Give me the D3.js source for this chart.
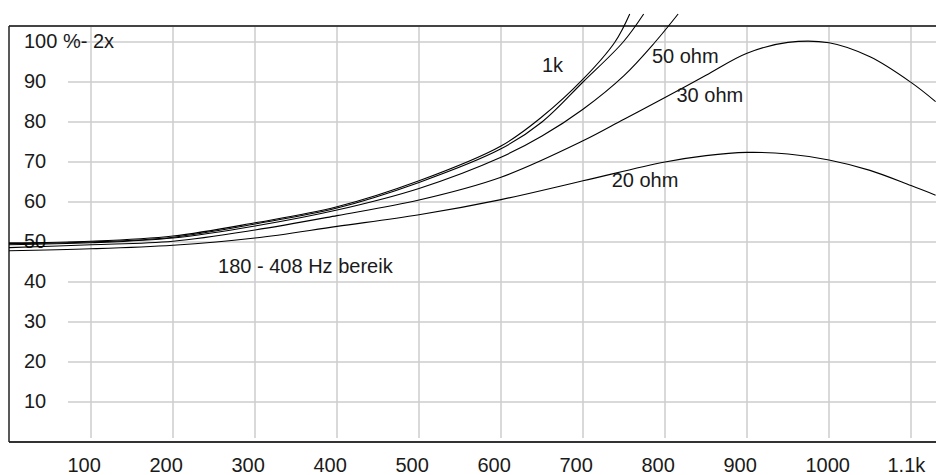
<!DOCTYPE html>
<html>
<head>
<meta charset="utf-8">
<script src="https://cdn.jsdelivr.net/npm/d3@7"></script>
<style>
  html, body { margin: 0; padding: 0; background: #fff; }
  svg { display: block; }
  text { font-family: "Liberation Sans", Arial, sans-serif; font-size: 20px; fill: #1a1a1a; }
</style>
</head>
<body>
<svg id="chart" width="936" height="475"></svg>
<script>
// ---- data ----
const xTicks = [100, 200, 300, 400, 500, 600, 700, 800, 900, 1000, 1100];
const xTickLabels = ["100", "200", "300", "400", "500", "600", "700", "800", "900", "1000", "1.1k"];
const yTicks = [10, 20, 30, 40, 50, 60, 70, 80, 90, 100];
const yTickLabels = ["10", "20", "30", "40", "50", "60", "70", "80", "90", "100 %- 2x"];

const freqA = [0, 100, 200, 300, 400, 500, 600, 650, 700, 739, 757];
const valsA = [49.8, 50.2, 51.5, 54.8, 58.8, 65.3, 74, 81.3, 90.7, 100, 107];

const freqB = [0, 100, 200, 300, 400, 500, 600, 650, 700, 749, 774];
const valsB = [49.6, 50, 51.2, 54.5, 58.5, 64.9, 73.3, 80, 90, 100, 107];

const freqC = [0, 100, 200, 300, 400, 500, 600, 650, 700, 750, 788, 816];
const valsC = [49.3, 49.8, 51, 54, 58, 63.4, 71.2, 76.5, 83.2, 91.6, 100, 107];

const freqD = [0, 100, 200, 300, 400, 500, 600, 700, 750, 800, 850, 900, 950, 1000, 1050, 1100, 1130];
const valsD = [48.6, 49.3, 50.2, 53, 56.6, 60.5, 66.2, 75.3, 80.7, 86.1, 91.7, 97.2, 99.9, 99.8, 96.3, 89.9, 85.1];

const freqE = [0, 100, 200, 300, 400, 500, 600, 700, 800, 850, 900, 950, 1000, 1050, 1100, 1130];
const valsE = [47.8, 48.3, 49.2, 51, 53.9, 56.8, 60.6, 65.3, 70, 71.6, 72.4, 72, 70.5, 67.9, 64.1, 61.7];

// annotation labels: text, anchor frequency, anchor value
const annText = ["1k", "50 ohm", "30 ohm", "20 ohm", "180 - 408 Hz bereik"];
const annFreq = [650, 784, 814, 735, 255];
const annVal  = [92.6, 94.7, 85.1, 63.8, 42.2];

// ---- layout ----
const W = 936, H = 475;
const svg = d3.select("#chart");
const x = d3.scaleLinear().domain([0, 1100]).range([9, 911]);
const y = d3.scaleLinear().domain([0, 100]).range([442, 42]);
const plotTop = 26, plotBottom = 442, plotLeft = 9;

// gridlines
const grid = svg.append("g").attr("stroke", "#cdcdcd").attr("stroke-width", 1.5);
grid.selectAll("line.v").data(xTicks).join("line")
  .attr("class", "v")
  .attr("x1", d => x(d)).attr("x2", d => x(d))
  .attr("y1", plotTop + 1).attr("y2", 438);
grid.selectAll("line.h").data(yTicks).join("line")
  .attr("class", "h")
  .attr("x1", 68).attr("x2", W)
  .attr("y1", d => y(d)).attr("y2", d => y(d));

// frame
const frame = svg.append("g").attr("fill", "none");
frame.append("line").attr("x1", plotLeft).attr("x2", W).attr("y1", plotTop).attr("y2", plotTop)
  .attr("stroke", "#444").attr("stroke-width", 2);
frame.append("line").attr("x1", plotLeft).attr("x2", W).attr("y1", plotBottom).attr("y2", plotBottom)
  .attr("stroke", "#333").attr("stroke-width", 2);
frame.append("line").attr("x1", plotLeft).attr("x2", plotLeft).attr("y1", plotTop).attr("y2", plotBottom)
  .attr("stroke", "#222").attr("stroke-width", 1.5);

// axes (labels only)
const xAxis = d3.axisBottom(x).tickValues(xTicks)
  .tickFormat((d, i) => xTickLabels[i]).tickSize(0).tickPadding(0);
const gx = svg.append("g").attr("transform", "translate(0,472)").call(xAxis);
gx.select(".domain").remove();
gx.selectAll("text")
  .attr("text-anchor", "start").attr("x", -24).attr("y", 0).attr("dy", 0)
  .attr("fill", "#1a1a1a").style("font-size", "20px")
  .style("font-family", '"Liberation Sans", Arial, sans-serif');

const yAxis = d3.axisLeft(y).tickValues(yTicks)
  .tickFormat((d, i) => yTickLabels[i]).tickSize(0).tickPadding(0);
const gy = svg.append("g").attr("transform", "translate(24,0)").call(yAxis);
gy.select(".domain").remove();
gy.selectAll("text")
  .attr("text-anchor", "start").attr("x", 0).attr("dy", 0).attr("y", 5)
  .attr("fill", "#1a1a1a").style("font-size", "20px")
  .style("font-family", '"Liberation Sans", Arial, sans-serif');

// curves
const series = [
  [freqA, valsA], [freqB, valsB], [freqC, valsC], [freqD, valsD], [freqE, valsE]
];
const line = d3.line()
  .x(d => x(d[0])).y(d => y(d[1]))
  .curve(d3.curveCatmullRom.alpha(0.5));
svg.append("g").selectAll("path").data(series).join("path")
  .attr("d", s => line(s[0].map((f, i) => [f, s[1][i]])))
  .attr("fill", "none").attr("stroke", "#000").attr("stroke-width", 1.1);

// annotations
svg.append("g").selectAll("text").data(annText).join("text")
  .attr("x", (d, i) => x(annFreq[i]))
  .attr("y", (d, i) => y(annVal[i]))
  .text(d => d);
</script>
</body>
</html>
